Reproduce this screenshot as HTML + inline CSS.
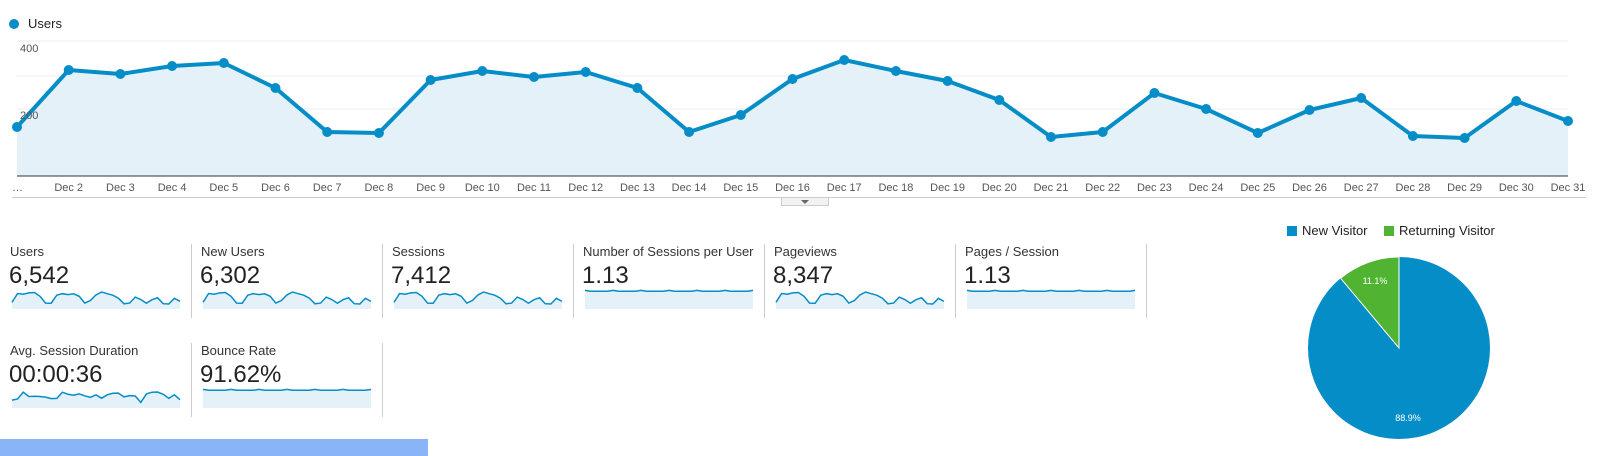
<!DOCTYPE html>
<html><head><meta charset="utf-8">
<style>
body{margin:0;width:1599px;height:456px;background:#fff;overflow:hidden;font-family:"Liberation Sans",Arial,sans-serif;position:relative}
.a{position:absolute;white-space:nowrap}
.lbl{font-size:13px;color:#333}
.val{font-size:24px;color:#222}
.sep{position:absolute;width:1px;background:#ccc}
</style></head><body>
<svg id="s" width="1599" height="456" style="position:absolute;left:0;top:0"></svg>
<div class="a" style="left:28px;top:16px;font-size:13px;color:#222">Users</div>
<div class="a" style="left:20px;top:43px;font-size:11px;color:#555">400</div>
<div class="a" style="left:20px;top:110px;font-size:11px;color:#555">200</div>
<div id="m"></div>
<div class="a" style="left:0;top:439px;width:428px;height:17px;background:#8ab4f8"></div>
<div class="a" style="left:1287px;top:226px;width:10px;height:10px;background:#058dc7"></div>
<div class="a" style="left:1302px;top:223px;font-size:13px;color:#222">New Visitor</div>
<div class="a" style="left:1384px;top:226px;width:10px;height:10px;background:#50b432"></div>
<div class="a" style="left:1399px;top:223px;font-size:13px;color:#222">Returning Visitor</div>
<script>
var Y=[127,70,74,66,63,88,132,133,80,71,77,72,88,132,115,79,60,71,81,100,137,132,93,109,133,110,98,136,138,101,121];
var s='';
[41,76,109,142].forEach(function(g){s+='<line x1="17" x2="1568" y1="'+g+'" y2="'+g+'" stroke="#ececec"/>';});
var pts=Y.map(function(y,i){return [17+i*51.7,y];});
var ps=pts.map(function(p){return p[0].toFixed(1)+','+p[1];}).join(' ');
s+='<polygon points="17,176 '+ps+' 1568,176" fill="#e5f1f8"/>';
s+='<line x1="17" x2="1568" y1="176" y2="176" stroke="#333"/>';
s+='<polyline points="'+ps+'" fill="none" stroke="#058dc7" stroke-width="4" stroke-linejoin="round"/>';
pts.forEach(function(p){s+='<circle cx="'+p[0]+'" cy="'+p[1]+'" r="5" fill="#058dc7"/>';});
s+='<circle cx="14" cy="24" r="5" fill="#058dc7"/>';
s+='<text x="12" y="191" font-size="11" fill="#555" font-family="Liberation Sans">…</text>';
for(var i=1;i<31;i++){s+='<text x="'+(17+i*51.7)+'" y="191" font-size="11" fill="#555" text-anchor="middle" font-family="Liberation Sans">Dec '+(i+1)+'</text>';}
s+='<line x1="12" x2="1586" y1="197.5" y2="197.5" stroke="#ccc"/>';
s+='<rect x="781.5" y="197.5" width="47" height="8" fill="#f2f2f2" stroke="#ccc"/><polygon points="801,200 809,200 805,204" fill="#666"/>';
var cx=1399,cy=348,r=91,a=0.111*2*Math.PI;
var ex=cx-r*Math.sin(a),ey=cy-r*Math.cos(a);
s+='<circle cx="'+cx+'" cy="'+cy+'" r="'+r+'" fill="#058dc7"/>';
s+='<path d="M'+cx+','+cy+' L'+cx+','+(cy-r)+' A'+r+','+r+' 0 0 0 '+ex+','+ey+' Z" fill="#50b432" stroke="#fff" stroke-width="1"/>';
s+='<text x="1375" y="284" font-size="9" fill="#fff" text-anchor="middle" font-family="Liberation Sans">11.1%</text>';
s+='<text x="1408" y="421" font-size="9" fill="#fff" text-anchor="middle" font-family="Liberation Sans">88.9%</text>';
var M=[["Users","6,542",0,0,'u'],["New Users","6,302",1,0,'u'],["Sessions","7,412",2,0,'u'],["Number of Sessions per User","1.13",3,0,'f'],["Pageviews","8,347",4,0,'u'],["Pages / Session","1.13",5,0,'f'],["Avg. Session Duration","00:00:36",0,1,'d'],["Bounce Rate","91.62%",1,1,'f']];
var D=[137,132,100,120,119,120,123,130,129,100,110,114,108,117,124,112,128,112,105,104,122,116,118,148,108,100,99,110,129,112,135];
var h='';
M.forEach(function(m){
 var x=10+m[2]*191,y=m[3]*99;
 h+='<div class="a lbl" style="left:'+x+'px;top:'+(244+y)+'px">'+m[0]+'</div>';
 h+='<div class="a val" style="left:'+(x-1)+'px;top:'+(262+y)+'px">'+m[1]+'</div>';
 if(m[2]<6) h+='<div class="sep" style="left:'+(x+181)+'px;top:'+(244+y)+'px;height:74px"></div>';
 var x0=x+2,w=168,bot=309+y,pp=[];
 for(var i=0;i<31;i++){var v;
  if(m[4]=='u') v=292+(Y[i]-60)/78*12;
  else if(m[4]=='f') v=291+((i*7)%5==0?-0.6:0.3);
  else v=293+(D[i]-99)/61*13;
  pp.push((x0+i*w/30).toFixed(1)+','+(v+y).toFixed(1));}
 s+='<polygon points="'+x0+','+bot+' '+pp.join(' ')+' '+(x0+w)+','+bot+'" fill="#e5f1f8"/>';
 s+='<polyline points="'+pp.join(' ')+'" fill="none" stroke="#058dc7" stroke-width="1.5"/>';
});
document.getElementById('m').innerHTML=h;
document.getElementById('s').innerHTML=s;
</script>
</body></html>
